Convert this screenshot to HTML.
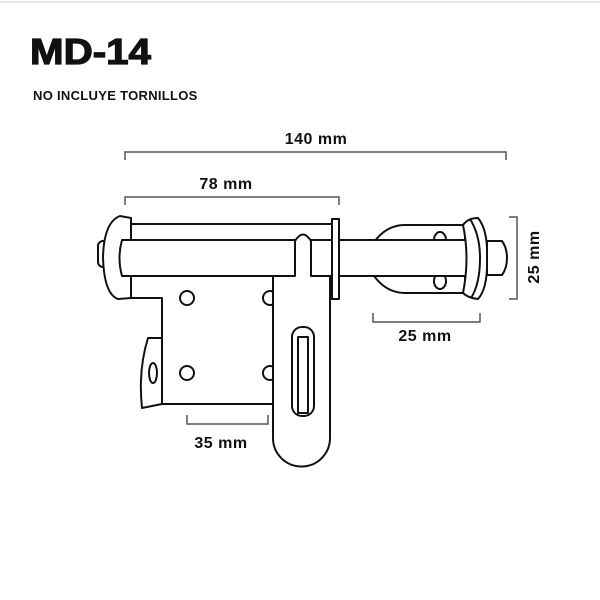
<!DOCTYPE html>
<html><head><style>
body{margin:0;background:#fff;}
svg{display:block}
text{font-family:"Liberation Sans",sans-serif;font-weight:bold;fill:#111}
</style></head><body>
<svg width="600" height="600" viewBox="0 0 600 600">
<rect x="0" y="0" width="600" height="600" fill="#fff"/>
<line x1="0" y1="2" x2="600" y2="2" stroke="#e6e6e6" stroke-width="2"/>
<text x="0" y="0" font-size="36" transform="translate(30,64) scale(1.12,1)" stroke="#111" stroke-width="1.2">MD-14</text>
<text x="33" y="100" font-size="13" style="letter-spacing:0.3px">NO INCLUYE TORNILLOS</text>

<g fill="none" stroke="#555" stroke-width="1.5">
<polyline points="125,160 125,152 506,152 506,160"/>
<polyline points="125,205 125,197 339,197 339,205"/>
<polyline points="187,415 187,424 268,424 268,415"/>
<polyline points="373,313 373,322 480,322 480,313"/>
<polyline points="509,217 517,217 517,299 509,299"/>
</g>
<text x="316" y="144" font-size="16" text-anchor="middle" style="letter-spacing:0.5px">140 mm</text>
<text x="226" y="189" font-size="16" text-anchor="middle" style="letter-spacing:0.5px">78 mm</text>
<text x="221" y="448" font-size="16" text-anchor="middle" style="letter-spacing:0.5px">35 mm</text>
<text x="425" y="341" font-size="16" text-anchor="middle" style="letter-spacing:0.5px">25 mm</text>
<text x="0" y="0" font-size="16" text-anchor="middle" transform="translate(539,257) rotate(-90)" style="letter-spacing:0.5px">25 mm</text>

<g fill="#fff" stroke="#111" stroke-width="2" stroke-linejoin="round">
<path d="M372,245 Q385,225 405,225 L465,225 L465,293 L405,293 Q385,293 372,273 Z"/>
<ellipse cx="440" cy="240" rx="6" ry="8"/>
<ellipse cx="440" cy="281" rx="6" ry="8"/>
<path d="M131,224 L333,224 L333,299 L273,299 L273,404 L162,404 L162,298 L131,298 Z"/>
<path d="M162,338 L148,338 Q138,370 142,408 L162,404 Z"/>
<ellipse cx="153" cy="373" rx="4" ry="10"/>
<circle cx="187" cy="298" r="7"/>
<circle cx="187" cy="373" r="7"/>
<circle cx="270" cy="298" r="7"/>
<circle cx="270" cy="373" r="7"/>
<rect x="98" y="241" width="12" height="26" rx="5"/>
<path d="M131,218 L120,216 Q104,222 103,257 Q104,294 118,299 L131,298 Z"/>
<path d="M122,240 L300,240 L300,276 L122,276 Q117,258 122,240 Z"/>
<rect x="300" y="240" width="173" height="36"/>
<rect x="332" y="219" width="7" height="80"/>
<path d="M273,276 L295,276 L295,241 Q303,228 311,241 L311,276 L330,276 L330,438 A28.5,28.5 0 0 1 273,438 Z"/>
<rect x="292" y="327" width="22" height="89" rx="10"/>
<rect x="298" y="337" width="10" height="76"/>
<path d="M463,225 Q468,218 478,218 Q488,230 487,258 Q488,288 478,299 Q468,298 463,293 Q470,258 463,225 Z"/>
<path d="M470,219 Q480,235 480,258 Q480,284 471,298" fill="none"/>
<path d="M487,241 L502,241 Q507,248 507,258 Q507,268 502,275 L487,275 Z"/>
</g>
</svg>
</body></html>
